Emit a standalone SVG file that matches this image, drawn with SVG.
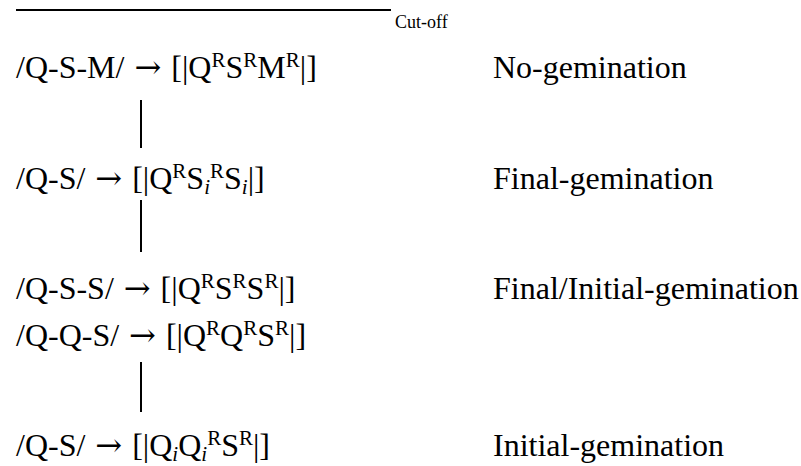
<svg xmlns="http://www.w3.org/2000/svg" width="801" height="466" viewBox="0 0 801 466" font-family="'Liberation Serif', 'DejaVu Serif', serif">
<style>
text{font-family:'Liberation Serif','DejaVu Serif',serif;fill:#000}
.t{font-size:32px}
.c{font-size:18px}
.sup{font-size:21px}
.sub{font-size:21px;font-style:italic}
.ar{font-family:'DejaVu Serif',serif;font-size:32px}
.ln{stroke:#000;stroke-width:2;fill:none}
</style>
<rect width="801" height="466" fill="#fff"/>
<g id="cutoff">
<line class="ln" x1="16" y1="10" x2="391" y2="10"/>
<text class="c" x="395" y="28">Cut-off</text>
</g>
<g id="connectors">
<line class="ln" x1="141" y1="100" x2="141" y2="148"/>
<line class="ln" x1="141" y1="200" x2="141" y2="252"/>
<line class="ln" x1="141" y1="362" x2="141" y2="412"/>
</g>
<g id="row1">
<text class="t" x="16" y="78">/Q-S-M/ <tspan class="ar" dx="2">→</tspan><tspan dx="2"> [|Q</tspan><tspan class="sup" dy="-11">R</tspan><tspan dy="11">S</tspan><tspan class="sup" dy="-11">R</tspan><tspan dy="11">M</tspan><tspan class="sup" dy="-11">R</tspan><tspan dy="11">|]</tspan></text>
<text class="t" x="493" y="78">No-gemination</text>
</g>
<g id="row2">
<text class="t" x="16" y="189">/Q-S/ <tspan class="ar" dx="2">→</tspan><tspan dx="2"> [|Q</tspan><tspan class="sup" dy="-11">R</tspan><tspan dy="11">S</tspan><tspan class="sub" dy="5">i</tspan><tspan class="sup" dy="-16">R</tspan><tspan dy="11">S</tspan><tspan class="sub" dy="5">i</tspan><tspan dy="-5">|]</tspan></text>
<text class="t" x="493" y="189">Final-gemination</text>
</g>
<g id="row3">
<text class="t" x="16" y="299">/Q-S-S/ <tspan class="ar" dx="2">→</tspan><tspan dx="2"> [|Q</tspan><tspan class="sup" dy="-11">R</tspan><tspan dy="11">S</tspan><tspan class="sup" dy="-11">R</tspan><tspan dy="11">S</tspan><tspan class="sup" dy="-11">R</tspan><tspan dy="11">|]</tspan></text>
<text class="t" x="493" y="299">Final/Initial-gemination</text>
</g>
<g id="row4">
<text class="t" x="16" y="346">/Q-Q-S/ <tspan class="ar" dx="2">→</tspan><tspan dx="2"> [|Q</tspan><tspan class="sup" dy="-11">R</tspan><tspan dy="11">Q</tspan><tspan class="sup" dy="-11">R</tspan><tspan dy="11">S</tspan><tspan class="sup" dy="-11">R</tspan><tspan dy="11">|]</tspan></text>
</g>
<g id="row5">
<text class="t" x="16" y="456">/Q-S/ <tspan class="ar" dx="2">→</tspan><tspan dx="2"> [|Q</tspan><tspan class="sub" dy="5">i</tspan><tspan dy="-5">Q</tspan><tspan class="sub" dy="5">i</tspan><tspan class="sup" dy="-16">R</tspan><tspan dy="11">S</tspan><tspan class="sup" dy="-11">R</tspan><tspan dy="11">|]</tspan></text>
<text class="t" x="493" y="456">Initial-gemination</text>
</g>
</svg>
